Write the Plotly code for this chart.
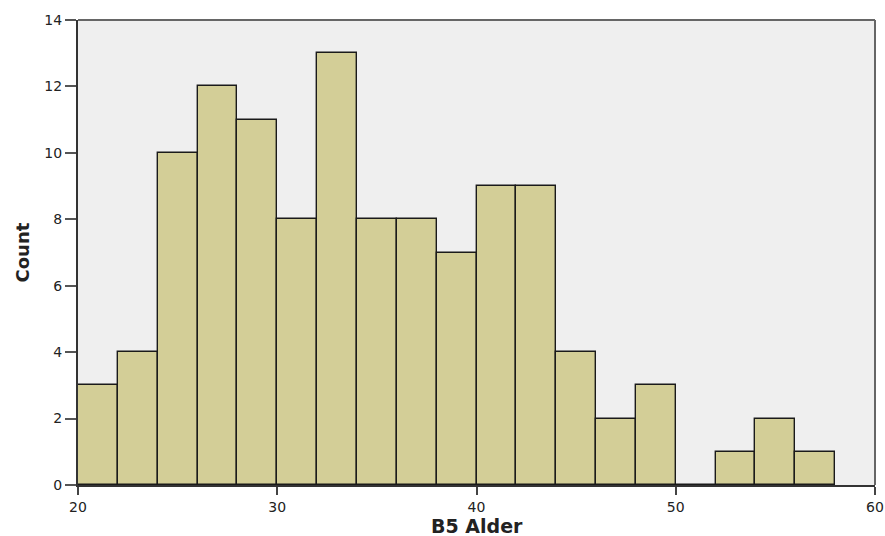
import plotly.graph_objects as go

bin_left = [20, 22, 24, 26, 28, 30, 32, 34, 36, 38, 40, 42, 44, 46, 48, 50, 52, 54, 56]
counts = [3, 4, 10, 12, 11, 8, 13, 8, 8, 7, 9, 9, 4, 2, 3, 0, 1, 2, 1]
bin_width = 2

fig = go.Figure(go.Bar(
    x=bin_left, y=counts, width=bin_width, offset=0,
    marker=dict(color="#D3CE97", line=dict(color="#1a1a1a", width=1.4)),
))

fig.update_layout(
    width=885, height=536,
    margin=dict(l=78, r=10, t=20, b=51, autoexpand=False),
    plot_bgcolor="#EFEFEF", paper_bgcolor="white",
    font=dict(family="DejaVu Sans, Verdana, sans-serif", color="#222", size=14),
    showlegend=False, bargap=0,
)
fig.update_xaxes(
    range=[20, 60], tickvals=[20, 30, 40, 50, 60], ticks="outside", ticklen=8,
    tickcolor="#444", tickwidth=1.5, showgrid=False, zeroline=False, showline=True,
    linecolor="#333", linewidth=2, automargin=False,
)
fig.update_yaxes(
    range=[0, 14], tickvals=[0, 2, 4, 6, 8, 10, 12, 14], ticks="outside", ticklen=11,
    tickcolor="#555", tickwidth=1.5, showgrid=False, zeroline=False, showline=True,
    linecolor="#333", linewidth=2, automargin=False,
)
fig.add_annotation(text="<b>B5 Alder</b>", xref="paper", yref="paper", x=0.5, y=0,
                   yanchor="middle", xanchor="center", borderpad=0,
                   yshift=-41, showarrow=False, font=dict(size=19))
fig.add_annotation(text="<b>Count</b>", xref="paper", yref="paper", x=0, y=0.5,
                   xanchor="center", yanchor="middle", borderpad=0,
                   xshift=-56, textangle=-90, showarrow=False, font=dict(size=18))
# top and right frame lines (lighter)
fig.add_shape(type="line", xref="paper", yref="paper", x0=0, x1=1, y0=1, y1=1,
              line=dict(color="#666", width=2))
fig.add_shape(type="line", xref="paper", yref="paper", x0=1, x1=1, y0=0, y1=1,
              line=dict(color="#666", width=2))

fig.write_html("out.html", config={"displayModeBar": False},
               post_script="document.body.style.margin='0';document.body.style.padding='0';")
